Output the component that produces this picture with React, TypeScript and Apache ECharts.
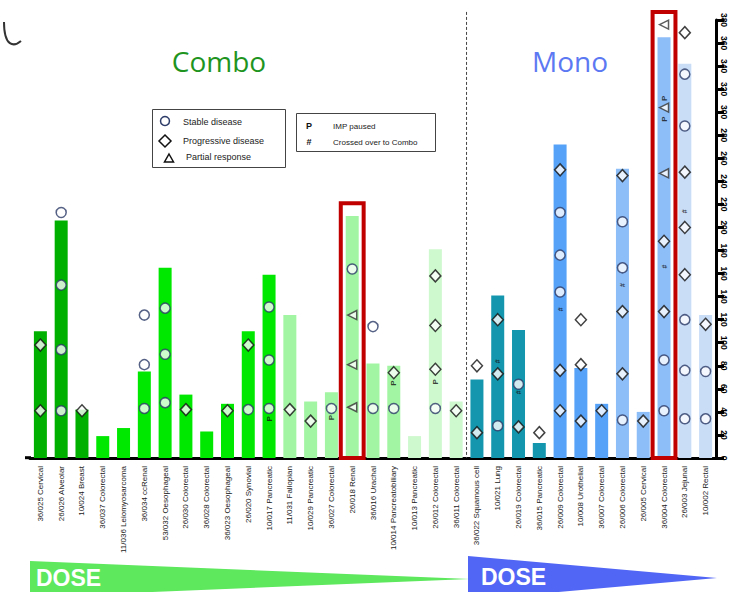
import React, { useEffect, useRef } from "react";
import * as echarts from "echarts";

// ---------- data ----------
const categories = [
  "36/025 Cervical", "26/026 Alveolar", "10/024 Breast", "36/037 Colorectal",
  "11/036 Leiomyosarcoma", "36/034 ccRenal", "53/032 Oesophageal", "26/030 Colorectal",
  "36/028 Colorectal", "36/023 Oesophageal", "26/020 Synovial", "10/017 Pancreatic",
  "11/031 Fallopian", "10/029 Pancreatic", "36/027 Colorectal", "26/018 Renal",
  "36/016 Urachal", "10/014 Pancreatobiliary", "10/013 Pancreatic", "26/012 Colorectal",
  "36/011 Colorectal", "36/022 Squamous cell", "10/021 Lung", "26/019 Colorectal",
  "36/015 Pancreatic", "26/009 Colorectal", "10/008 Urothelial", "36/007 Colorectal",
  "26/006 Colorectal", "26/005 Cervical", "36/004 Colorectal", "26/003 Jejunal",
  "10/002 Rectal",
];

const cohorts = [
  "C1", "C1", "C1", "C2", "C2", "C2", "C2", "C2", "C2", "C2", "C2", "C2",
  "C3", "C3", "C3", "C3", "C3", "C3", "C4", "C4", "C4",
  "M1", "M1", "M1", "M1", "M2", "M2", "M2", "M3", "M3", "M3", "M4", "M4",
];

const durations = [
  110, 206, 42, 19, 26, 75, 165, 55, 23, 47, 110, 159, 124, 49, 57, 210, 82,
  80, 19, 181, 49, 68, 141, 111, 13, 272, 78, 47, 251, 40, 365, 342, 124,
];

// [category index, day]
const stableDisease: [number, number][] = [
  [1, 213], [1, 150], [1, 94], [1, 41],
  [5, 124], [5, 81], [5, 43],
  [6, 130], [6, 90], [6, 48],
  [10, 42],
  [11, 131], [11, 85], [11, 43],
  [14, 43], [15, 164], [16, 114], [16, 43], [17, 43], [19, 43],
  [22, 28], [23, 64],
  [25, 213], [25, 176], [25, 144],
  [28, 205], [28, 165], [28, 33],
  [30, 85], [30, 41],
  [31, 333], [31, 288], [31, 120], [31, 76], [31, 34],
  [32, 75], [32, 34],
];

const progressiveDisease: [number, number][] = [
  [0, 98], [0, 41], [2, 41], [7, 42], [9, 41], [10, 98], [12, 42], [13, 32],
  [17, 74], [19, 158], [19, 115], [19, 77], [20, 41],
  [21, 80], [21, 22], [22, 120], [22, 73], [23, 27], [24, 22],
  [25, 250], [25, 76], [25, 41],
  [26, 120], [26, 81], [26, 32], [27, 41],
  [28, 245], [28, 127], [28, 73], [29, 32],
  [30, 188], [30, 127],
  [31, 369], [31, 248], [31, 200], [31, 159],
  [32, 116],
];

const partialResponse: [number, number][] = [
  [15, 124], [15, 81], [15, 44],
  [30, 376], [30, 304], [30, 247],
];

const impPaused: [number, number][] = [
  [11, 34], [14, 35], [17, 65], [19, 66], [30, 312], [30, 294],
];

const crossedOver: [number, number][] = [
  [22, 84], [23, 57], [25, 129], [28, 150], [30, 166], [31, 214],
];

const highlighted: [number, number][] = [[15, 221], [30, 387]];
const armDivider: [number, number][] = [[20, 387]];

// ---------- styles ----------
const cohortColors: Record<string, string> = {
  C1: "#00B000", C2: "#00E800", C3: "#A2F5A2", C4: "#CEF9CE",
  M1: "#1497AE", M2: "#55A2F8", M3: "#8EBEF7", M4: "#C9DDF7",
};

export default function App() {
  const ref = useRef<HTMLDivElement>(null);
  useEffect(() => {
    if (!ref.current) return;
    const chart = echarts.init(ref.current, null, { renderer: "svg" });
    const font = "Liberation Sans";
    const textMarker = (txt: string, size: number) => ({
      type: "scatter",
      symbol: "circle",
      symbolSize: 1,
      itemStyle: { color: "transparent" },
      label: {
        show: true,
        position: "inside",
        formatter: txt,
        rotate: 90,
        fontSize: size,
        fontWeight: "bold",
        color: "#111",
        fontFamily: font,
      },
      z: 6,
    });
    chart.setOption({
      animation: false,
      textStyle: { fontFamily: font },
      grid: { left: 30, right: 26, top: 20, bottom: 134, containLabel: false },
      xAxis: {
        type: "category",
        data: categories,
        axisLine: { lineStyle: { color: "#000", width: 3 } },
        axisTick: { show: false },
        axisLabel: {
          rotate: 90, interval: 0, fontSize: 8, color: "#1a1a1a", margin: 8,
          fontFamily: font,
        },
      },
      yAxis: {
        type: "value",
        position: "right",
        min: 0,
        max: 380,
        interval: 20,
        axisLine: { show: true, lineStyle: { color: "#000", width: 3 } },
        axisTick: { show: true, length: 8, lineStyle: { color: "#000", width: 3 } },
        splitLine: { show: false },
        axisLabel: {
          rotate: -90, fontSize: 8.5, fontWeight: "bold", color: "#000", margin: 3,
          fontFamily: font,
        },
      },
      series: [
        {
          type: "bar",
          barWidth: 13,
          data: durations.map((v, i) => ({
            value: v,
            itemStyle: { color: cohortColors[cohorts[i]] },
          })),
          z: 2,
        },
        {
          type: "custom",
          data: armDivider,
          encode: { x: 0, y: 1 },
          renderItem: (_p: any, api: any) => {
            const idx = api.value(0);
            const band = api.size([1, 0])[0];
            const top = api.coord([idx, api.value(1)]);
            const base = api.coord([idx, 0]);
            const x = top[0] + band / 2;
            return {
              type: "line",
              shape: { x1: x, y1: top[1], x2: x, y2: base[1] },
              style: { stroke: "#444", lineWidth: 1, lineDash: [3, 2] },
            };
          },
          z: 3,
        },
        {
          type: "custom",
          data: highlighted,
          encode: { x: 0, y: 1 },
          renderItem: (_p: any, api: any) => {
            const idx = api.value(0);
            const band = api.size([1, 0])[0];
            const top = api.coord([idx, api.value(1)]);
            const base = api.coord([idx, 0]);
            const w = band * 1.1;
            return {
              type: "rect",
              shape: { x: top[0] - w / 2, y: top[1], width: w, height: base[1] - top[1] },
              style: { fill: "none", stroke: "#C00000", lineWidth: 4 },
            };
          },
          z: 4,
        },
        {
          type: "scatter",
          data: stableDisease,
          symbol: "circle",
          symbolSize: 10,
          itemStyle: { color: "#fff", borderColor: "#2B3A67", borderWidth: 1.5 },
          z: 5,
        },
        {
          type: "scatter",
          data: progressiveDisease,
          symbol: "diamond",
          symbolSize: [11, 12],
          itemStyle: { color: "#fff", borderColor: "#111", borderWidth: 1.5 },
          z: 5,
        },
        {
          type: "scatter",
          data: partialResponse,
          symbol: "triangle",
          symbolRotate: 90,
          symbolSize: [9, 9],
          itemStyle: { color: "#fff", borderColor: "#333", borderWidth: 1.5 },
          z: 5,
        },
        { ...textMarker("P", 8), data: impPaused },
        { ...textMarker("#", 7), data: crossedOver },
      ],
      graphic: [
        {
          type: "bezierCurve",
          shape: { x1: 4, y1: 22, cpx1: 4, cpy1: 47, cpx2: 14, cpy2: 47, x2: 21, y2: 41 },
          style: { stroke: "#333", lineWidth: 2, fill: "none" },
        },
        {
          type: "line",
          shape: { x1: 25, y1: 457.7, x2: 31, y2: 457.7 },
          style: { stroke: "#000", lineWidth: 3 },
        },
        {
          type: "text", x: 219, y: 61,
          style: {
            text: "Combo", fill: "#1F951F", fontSize: 28, fontFamily: "Open Sans",
            align: "center", verticalAlign: "middle",
          },
        },
        {
          type: "text", x: 570, y: 61,
          style: {
            text: "Mono", fill: "#5C78F2", fontSize: 28, fontFamily: "Open Sans",
            align: "center", verticalAlign: "middle",
          },
        },
        // legend 1
        {
          type: "group",
          children: [
            { type: "rect", shape: { x: 152.5, y: 109.5, width: 133, height: 58 }, style: { fill: "#fff", stroke: "#444", lineWidth: 1 } },
            { type: "circle", shape: { cx: 165, cy: 121, r: 4.5 }, style: { fill: "#fff", stroke: "#2B3A67", lineWidth: 1.5 } },
            { type: "text", x: 183, y: 122, style: { text: "Stable disease", fontSize: 9, fill: "#222", fontFamily: font, verticalAlign: "middle" } },
            { type: "polygon", shape: { points: [[165, 135], [171, 141], [165, 147], [159, 141]] }, style: { fill: "#fff", stroke: "#111", lineWidth: 1.5 } },
            { type: "text", x: 183, y: 141, style: { text: "Progressive disease", fontSize: 9, fill: "#222", fontFamily: font, verticalAlign: "middle" } },
            { type: "polygon", shape: { points: [[169, 154], [173.5, 162], [164.5, 162]] }, style: { fill: "#fff", stroke: "#111", lineWidth: 1.5 } },
            { type: "text", x: 186, y: 157, style: { text: "Partial response", fontSize: 9, fill: "#222", fontFamily: font, verticalAlign: "middle" } },
          ],
        },
        // legend 2
        {
          type: "group",
          children: [
            { type: "rect", shape: { x: 296.5, y: 113.5, width: 139, height: 38 }, style: { fill: "#fff", stroke: "#444", lineWidth: 1 } },
            { type: "text", x: 309, y: 126, style: { text: "P", fontSize: 9, fontWeight: "bold", fill: "#111", fontFamily: font, align: "center", verticalAlign: "middle" } },
            { type: "text", x: 333, y: 126, style: { text: "IMP paused", fontSize: 8, fill: "#222", fontFamily: font, verticalAlign: "middle" } },
            { type: "text", x: 309, y: 142, style: { text: "#", fontSize: 9, fontWeight: "bold", fill: "#111", fontFamily: font, align: "center", verticalAlign: "middle" } },
            { type: "text", x: 333, y: 142, style: { text: "Crossed over to Combo", fontSize: 8, fill: "#222", fontFamily: font, verticalAlign: "middle" } },
          ],
        },
        // dose wedges
        {
          type: "polygon",
          shape: { points: [[30, 561], [470, 579], [30, 597]] },
          style: { fill: "#5DE85D" },
        },
        {
          type: "polygon",
          shape: { points: [[468, 556], [717, 578], [468, 600]] },
          style: { fill: "#5266F5" },
        },
        {
          type: "text", x: 36, y: 578,
          style: { text: "DOSE", fontSize: 23, fontWeight: "bold", fill: "#fff", fontFamily: font, verticalAlign: "middle" },
        },
        {
          type: "text", x: 481, y: 577,
          style: { text: "DOSE", fontSize: 23, fontWeight: "bold", fill: "#fff", fontFamily: font, verticalAlign: "middle" },
        },
      ],
    });
    return () => chart.dispose();
  }, []);
  return (
    <div
      ref={ref}
      style={{ position: "fixed", left: 0, top: 0, width: 742, height: 592, background: "#fff" }}
    />
  );
}
